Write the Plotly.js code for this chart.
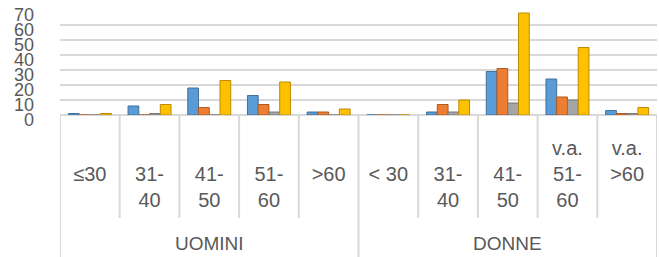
<!DOCTYPE html>
<html>
<head>
<meta charset="utf-8">
<script src="https://cdn.plot.ly/plotly-3.0.1.min.js"></script>
<style>html,body{margin:0;padding:0;background:#fff;}#chart{width:659px;height:257px;}</style>
</head>
<body>
<div id="chart"></div>
<script>
// Data
var groups = ["UOMINI", "DONNE"];
var categories = ["≤30", "31-40", "41-50", "51-60", ">60", "< 30", "31-40", "41-50", "v.a. 51-60", "v.a. >60"];
var tickLabels = ["\u00a0<br>≤30", "\u00a0<br>31-<br>40", "\u00a0<br>41-<br>50", "\u00a0<br>51-<br>60", "\u00a0<br>>60",
                  "\u00a0<br>< 30", "\u00a0<br>31-<br>40", "\u00a0<br>41-<br>50", "v.a.<br>51-<br>60", "v.a.<br>>60"];
var groupSize = [5, 5];
var serieBlue   = [1, 6, 18, 13, 2, 0, 2, 29, 24, 3];
var serieOrange = [0, 0, 5, 7, 2, 0, 7, 31, 12, 1];
var serieGray   = [0, 1, 0, 2, 0, 0, 2, 8, 10, 1];
var serieYellow = [1, 7, 23, 22, 4, 0, 10, 68, 45, 5];
var yTicks = [0, 10, 20, 30, 40, 50, 60, 70];

var xs = categories.map(function(_, i){ return i; });
function bar(y, color, line){
  return {type:'bar', x: xs, y: y, marker:{color: color, line:{color: line, width: 1}}, hoverinfo:'y', showlegend:false};
}
var data = [
  bar(serieBlue, '#5B9BD5', '#41719C'),
  bar(serieOrange, '#ED7D31', '#AE5A21'),
  bar(serieGray, '#A5A5A5', '#787878'),
  bar(serieYellow, '#FFC000', '#BC8C00')
];

var shapes = [];
var annotations = [];
var start = 0;
var plotH = 105;
function py(pix){ return (115 - pix) / plotH; }
groups.forEach(function(g, gi){
  var n = groupSize[gi];
  shapes.push({type:'line', xref:'x', yref:'paper', x0:start-0.5, x1:start-0.5, y0:py(116), y1:py(257), line:{color:'#d9d9d9', width:2}});
  for (var k = 1; k < n; k++) {
    shapes.push({type:'line', xref:'x', yref:'paper', x0:start+k-0.5, x1:start+k-0.5, y0:py(116), y1:py(218), line:{color:'#d9d9d9', width:2}});
  }
  annotations.push({xref:'x', yref:'paper', x:start+(n-1)/2, y:py(243), text:g, showarrow:false,
    font:{family:'Liberation Sans, Arial, sans-serif', size:19, color:'#595959'}, xanchor:'center', yanchor:'middle'});
  start += n;
});
shapes.push({type:'line', xref:'x', yref:'paper', x0:start-0.5, x1:start-0.5, y0:py(116), y1:py(257), line:{color:'#d9d9d9', width:2}});

var layout = {
  width: 659, height: 257,
  margin: {l:60, r:2, t:10, b:142},
  paper_bgcolor:'#ffffff', plot_bgcolor:'#ffffff',
  barmode:'group', bargap:0.28, bargroupgap:0,
  font:{family:'Liberation Sans, Arial, sans-serif', color:'#595959'},
  xaxis:{
    range:[-0.5, categories.length-0.5],
    tickmode:'array', tickvals: xs, ticktext: tickLabels,
    tickfont:{size:20, color:'#595959'}, tickangle:0,
    showgrid:false, zeroline:false, showline:false, ticks:'',
    ticklabelstandoff: 19
  },
  yaxis:{
    range:[0, 70], tickmode:'array', tickvals: yTicks,
    tickfont:{size:18, color:'#595959'},
    showgrid:true, gridcolor:'#d9d9d9', gridwidth:2,
    zeroline:true, zerolinecolor:'#d9d9d9', zerolinewidth:2,
    showline:false, ticks:'', ticklabelstandoff: 25, ticklabelshift: 5
  },
  shapes: shapes,
  annotations: annotations
};
Plotly.newPlot('chart', data, layout, {displayModeBar:false, staticPlot:true});
</script>
</body>
</html>
